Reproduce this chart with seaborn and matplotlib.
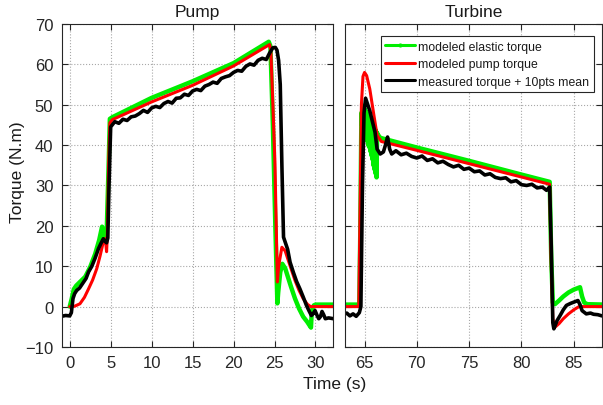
import numpy as np
import pandas as pd
import matplotlib
matplotlib.use("Agg")
import matplotlib.pyplot as plt
from matplotlib.lines import Line2D
import seaborn as sns

# ---------------- data ----------------
# Pump panel
pump_green_t = [0.0, 0.25, 0.5, 0.8, 1.3, 1.9, 2.5, 3.1, 3.6, 3.95, 4.1, 4.3, 4.5, 4.75, 4.9, 5.2,
                10.0, 15.0, 20.0, 24.3, 24.5, 24.8, 25.1, 25.35, 25.45, 25.7, 25.95, 26.3, 27.0,
                27.5, 28.0, 28.5, 29.0, 29.45, 29.55, 29.8, 30.0, 32.2]
pump_green_y = [0.0, 2.0, 4.3, 5.2, 6.2, 7.4, 9.8, 13.0, 16.5, 19.8, 17.5, 16.5, 17.5, 35.0, 46.5, 46.9,
                51.7, 55.8, 60.3, 65.6, 64.5, 45.0, 20.0, 0.8, 3.5, 8.5, 10.6, 9.5, 5.0,
                2.0, -0.5, -2.5, -3.8, -5.2, -1.0, 0.3, 0.5, 0.5]

pump_red_t = [0.0, 0.6, 1.25, 1.8, 2.3, 2.8, 3.3, 3.7, 4.1, 4.35, 4.5, 4.6, 4.75, 4.9, 5.2,
              10.0, 15.0, 20.0, 24.4, 24.55, 24.8, 25.05, 25.35, 25.5, 25.9, 26.3, 27.0, 27.5,
              28.0, 28.5, 29.0, 29.4, 32.2]
pump_red_y = [0.0, 0.1, 0.7, 2.3, 4.4, 6.6, 9.4, 12.5, 16.0, 16.8, 13.6, 18.0, 35.0, 45.5, 46.3,
              50.7, 54.8, 59.6, 64.9, 63.5, 50.0, 35.8, 6.1, 10.0, 14.7, 13.8, 9.5, 6.5,
              4.0, 2.0, 0.6, 0.0, 0.0]

pump_black_t = [-1.0, -0.5, 0.0, 0.2, 0.4, 0.6, 0.85, 1.2, 1.6, 2.0, 2.3, 2.7, 3.1, 3.5, 3.8, 4.1,
                4.3, 4.5, 4.65, 4.8, 5.0, 5.5, 6.0, 6.5, 7.0, 7.5, 8.0, 8.5, 9.0, 9.5, 10.0,
                10.5, 11.0, 11.5, 12.0, 12.5, 13.0, 13.5, 14.0, 14.5, 15.0, 15.5, 16.0, 16.5,
                17.0, 17.5, 18.0, 18.5, 19.0, 19.5, 20.0, 20.5, 21.0, 21.5, 22.0, 22.5, 23.0,
                23.5, 24.0, 24.4, 24.8, 25.1, 25.3, 25.5, 25.7, 25.9, 26.1, 26.3, 26.6, 26.9,
                27.3, 27.7, 28.1, 28.5, 28.9, 29.2, 29.5, 29.7, 29.95, 30.2, 30.4, 30.6, 30.8,
                31.0, 31.2, 31.6, 32.2]
pump_black_y = [-2.4, -2.2, -2.3, -1.5, 2.0, 3.2, 4.0, 4.6, 5.8, 7.0, 8.6, 10.0, 12.0, 14.3, 15.6, 16.8,
                16.2, 15.8, 17.0, 30.0, 44.5, 45.8, 45.4, 46.4, 46.1, 47.0, 47.2, 47.8, 48.6, 48.1, 49.2,
                49.6, 49.3, 50.3, 50.8, 50.4, 51.6, 51.7, 52.6, 52.3, 53.4, 53.8, 53.5, 54.6,
                55.0, 55.6, 55.3, 56.5, 56.9, 57.2, 58.0, 58.5, 58.3, 59.5, 60.1, 59.8, 61.0,
                61.5, 61.2, 62.8, 64.1, 64.2, 63.5, 61.0, 55.0, 35.0, 17.2, 16.0, 14.2, 11.0,
                8.5, 6.2, 4.4, 2.4, 0.3, -1.0, -2.2, -1.8, -1.0, -2.2, -3.0, -2.5, -1.2,
                -2.0, -3.0, -2.8, -3.0]

# Turbine panel
turb_green_t = [63.0, 64.5, 64.6, 64.7, 64.75, 64.8, 64.85, 64.9, 64.95, 65.0, 65.05, 65.1, 65.15,
                65.2, 65.25, 65.3, 65.35, 65.4, 65.45, 65.5, 65.55, 65.6, 65.65, 65.7, 65.75,
                65.8, 65.85, 65.9, 65.95, 66.0, 66.05, 66.1, 66.15, 66.2, 66.3, 66.5, 70.0, 75.0,
                80.0, 82.7, 82.85, 83.0, 83.2, 83.6, 84.0, 84.5, 85.0, 85.6, 85.8, 86.0, 86.3, 88.0]
turb_green_y = [0.5, 0.5, 20.0, 48.0, 45.0, 49.8, 44.5, 49.5, 44.0, 49.0, 43.0, 48.5, 42.0,
                48.0, 41.0, 47.5, 40.0, 47.0, 39.5, 46.5, 38.5, 46.0, 37.5, 45.5, 36.5,
                45.0, 35.0, 44.5, 34.0, 44.0, 33.0, 43.5, 32.0, 43.0, 42.5, 41.8, 39.4, 36.1,
                32.7, 30.9, 12.0, 1.0, 0.6, 1.5, 2.5, 3.5, 4.2, 4.8, 2.5, 1.0, 0.6, 0.5]

turb_red_t = [63.0, 64.45, 64.55, 64.7, 64.85, 65.0, 65.2, 65.5, 65.9, 66.2, 66.6, 70.0, 75.0,
              80.0, 82.7, 82.8, 83.0, 83.2, 83.6, 84.0, 84.5, 85.0, 85.5, 88.0]
turb_red_y = [0.0, 0.0, 20.0, 50.0, 57.0, 58.0, 57.2, 53.9, 47.3, 42.4, 40.9, 38.7, 35.4,
              32.1, 30.3, 15.0, -3.0, -5.1, -4.2, -3.0, -1.8, -0.8, 0.0, 0.0]

turb_black_t = [63.0, 63.3, 63.6, 63.9, 64.2, 64.5, 64.65, 64.8, 64.95, 65.1, 65.5, 66.0, 66.2,
                66.5, 66.8, 67.0, 67.2, 67.4, 67.6, 68.0, 68.5, 69.0, 69.5, 70.0, 70.5, 71.0,
                71.5, 72.0, 72.5, 73.0, 73.5, 74.0, 74.5, 75.0, 75.5, 76.0, 76.5, 77.0, 77.5,
                78.0, 78.5, 79.0, 79.5, 80.0, 80.5, 81.0, 81.5, 82.0, 82.4, 82.7, 82.85, 83.0,
                83.1, 83.4, 83.7, 84.0, 84.3, 84.7, 85.0, 85.4, 85.6, 85.8, 86.2, 86.6, 86.9,
                87.3, 87.7, 88.0]
turb_black_y = [-2.0, -1.6, -2.3, -1.8, -2.4, -1.5, 0.0, 30.0, 48.0, 51.6, 48.5, 43.2, 39.0,
                37.8, 38.3, 40.0, 42.0, 39.0, 37.8, 38.6, 37.6, 38.0, 37.2, 36.8, 37.3, 36.2,
                36.6, 35.6, 36.0, 35.2, 34.6, 35.0, 34.0, 34.3, 33.4, 33.6, 32.6, 32.9, 32.0,
                31.7, 31.9, 30.9, 31.2, 30.2, 30.0, 30.3, 29.4, 29.6, 28.8, 29.6, 15.0, -4.0,
                -5.5, -3.5, -2.2, -0.8, 0.3, 0.8, 1.1, 1.5, 0.5, -1.0, -1.8, -1.6, -1.9,
                -2.0, -2.3, -2.0]

series_labels = ["modeled elastic torque", "modeled pump torque", "measured torque + 10pts mean"]
series_colors = ["#00ee00", "#ff0000", "#000000"]
yticks = [-10, 0, 10, 20, 30, 40, 50, 60, 70]
pump_xticks = [0, 5, 10, 15, 20, 25, 30]
turb_xticks = [65, 70, 75, 80, 85]

# ---------------- style ----------------
sns.set_theme(style="white")
plt.rcParams['font.family'] = ['Liberation Sans', 'DejaVu Sans']

fig = plt.figure(figsize=(6.03, 4.06), dpi=100)
ax1 = fig.add_axes([0.1023, 0.1429, 0.4494, 0.7956])
ax2 = fig.add_axes([0.5716, 0.1429, 0.4267, 0.7956])

widths = [3.2, 2.2, 2.6]

def draw(ax, data):
    for (t, y), col, lw in zip(data, series_colors, widths):
        df = pd.DataFrame({"t": t, "y": y})
        sns.lineplot(data=df, x="t", y="y", ax=ax, color=col, lw=lw,
                     sort=False, estimator=None, legend=False)

draw(ax1, [(pump_green_t, pump_green_y), (pump_red_t, pump_red_y), (pump_black_t, pump_black_y)])
draw(ax2, [(turb_green_t, turb_green_y), (turb_red_t, turb_red_y), (turb_black_t, turb_black_y)])

for ax in (ax1, ax2):
    ax.set_ylim(-10, 70)
    ax.set_yticks(yticks)
    ax.grid(True, linestyle=':', color='#a8a8a8', linewidth=0.8)
    ax.tick_params(direction='in', length=4, width=0.8, bottom=True, left=True,
                   top=True, right=True, labelsize=12, colors='#262626', pad=6)
    for s in ax.spines.values():
        s.set_color('#262626')
        s.set_linewidth(0.8)
    ax.set_xlabel("")
    ax.set_ylabel("")
    ax.set_axisbelow(True)

ax1.set_xlim(-0.98, 32.1)
ax1.set_xticks(pump_xticks)
ax2.set_xlim(63.1, 87.7)
ax2.set_xticks(turb_xticks)
ax2.set_yticklabels([])

ax1.set_title("Pump", fontsize=12.5, color='#1a1a1a', pad=6)
ax2.set_title("Turbine", fontsize=12.5, color='#1a1a1a', pad=6)
fig.text(335 / 603, 1 - 385 / 406, "Time (s)", ha='center', va='center', fontsize=12.5, color='#1a1a1a')
fig.text(18 / 603, 1 - 172 / 406, "Torque (N.m)", ha='center', va='center', rotation=90,
         fontsize=12.5, color='#1a1a1a')

handles = [Line2D([0], [0], color=series_colors[0], lw=2.2, marker='.', markersize=4),
           Line2D([0], [0], color=series_colors[1], lw=2.2),
           Line2D([0], [0], color=series_colors[2], lw=2.2)]
leg = ax2.legend(handles, series_labels, loc='upper right', bbox_to_anchor=(0.968, 0.962),
                 fontsize=8.8, frameon=True, fancybox=False, framealpha=1,
                 edgecolor='#262626', handlelength=2.4, handletextpad=0.3,
                 borderpad=0.35, labelspacing=0.45, borderaxespad=0, numpoints=1)
leg.get_frame().set_linewidth(0.8)
for txt in leg.get_texts():
    txt.set_color('#1a1a1a')

fig.savefig("out.png", dpi=100)
